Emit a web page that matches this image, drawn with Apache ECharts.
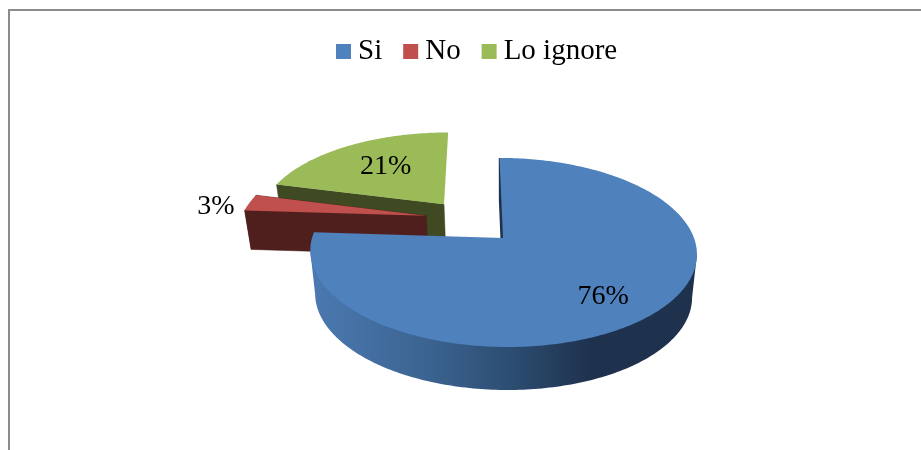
<!DOCTYPE html>
<html>
<head>
<meta charset="utf-8">
<style>html,body{margin:0;padding:0;background:#fff}#c{width:921px;height:450px}</style>
<script src="https://cdn.jsdelivr.net/npm/echarts@6/dist/echarts.min.js"></script>
</head>
<body>
<div id="c"></div>
<script>
var categories = ['Si', 'No', 'Lo ignore'];
var values = [76, 3, 21];

// Drawing style and projection of the tilted disc (no data here)
var topColors = ['#4F81BD', '#C0504D', '#9BBB59'];
var wallColors = [null, '#4F1F1D', '#3F4A22'];
var explode = [[0, 0], [-0.413, -0.25], [-0.319, -0.386]];
var labelRadius = [0.73, 1.19, 0.63];
var labelNudge = [[-6, 5.5], [-1, 6], [4.5, 0]];
var wallDepth = [43, 39, 39];
var curvedWall = [true, true, false];
var radialWallEnds = [[true, false], [true, true], [true, false]];
var apex = [503, 238], Rx = 191, Ry = 92.3, persp = 0.153, skew = 4;
var startDeg = 0, bottomSx = 0.975;
var FONT = '"Liberation Serif","Times New Roman",serif';

var total = values.reduce(function (a, b) { return a + b; }, 0);

function project(X, Y) {
  var w = 1 - persp * Y;
  return [apex[0] + (Rx * X + skew * Y) / w, apex[1] + Ry * Y / w];
}
function lower(p, idx) {
  return [apex[0] + bottomSx * (p[0] - apex[0]), p[1] + wallDepth[idx]];
}
function discPoint(idx, deg, r) {
  var a = deg * Math.PI / 180;
  return project(explode[idx][0] + r * Math.sin(a), explode[idx][1] - r * Math.cos(a));
}
function sliceRange(idx) {
  var before = 0;
  for (var i = 0; i < idx; i++) before += values[i];
  return [startDeg + 360 * before / total, startDeg + 360 * (before + values[idx]) / total];
}
function wallFill(idx) {
  if (wallColors[idx]) return wallColors[idx];
  return new echarts.graphic.LinearGradient(316, 0, 590, 0, [
    { offset: 0, color: '#4A78AF' },
    { offset: 0.4, color: '#3C6492' },
    { offset: 0.7, color: '#2D4E73' },
    { offset: 1, color: '#1E324E' }
  ], true);
}
function renderSlice(idx) {
  var range = sliceRange(idx), arc = [], d, i;
  for (d = range[0]; d < range[1]; d += 1) arc.push(discPoint(idx, d, 1));
  arc.push(discPoint(idx, range[1], 1));
  var c = discPoint(idx, 0, 0);
  var low = function (p) { return lower(p, idx); };
  var children = [];
  if (curvedWall[idx]) {
    // Outer wall: the silhouette between the disc's widest points, closed under the top face
    var iL = 0, iR = 0;
    for (i = 0; i < arc.length; i++) {
      if (arc[i][0] < arc[iL][0]) iL = i;
      if (arc[i][0] > arc[iR][0]) iR = i;
    }
    var a = Math.min(iL, iR), b = Math.max(iL, iR);
    children.push({
      type: 'polygon',
      shape: { points: arc.slice(a, b + 1).map(low).concat([arc[b], arc[a]]) },
      style: { fill: wallFill(idx) }
    });
  }
  [arc[0], arc[arc.length - 1]].forEach(function (p, k) {
    if (!radialWallEnds[idx][k]) return;
    children.push({
      type: 'polygon',
      shape: { points: [c, p, low(p), low(c)] },
      style: { fill: wallColors[idx] || '#1E324E', stroke: wallColors[idx] || '#1E324E', lineWidth: idx === 0 ? 1.5 : 0.5 }
    });
  });
  children.push({
    type: 'polygon',
    shape: { points: [c].concat(arc) },
    style: { fill: topColors[idx] }
  });
  var lp = discPoint(idx, (range[0] + range[1]) / 2, labelRadius[idx]);
  children.push({
    type: 'text',
    x: lp[0] + labelNudge[idx][0], y: lp[1] + labelNudge[idx][1],
    style: {
      text: Math.round(values[idx] / total * 100) + '%',
      fill: '#000', font: '28px ' + FONT, align: 'center', verticalAlign: 'middle'
    }
  });
  return { type: 'group', children: children };
}

var drawOrder = [2, 1, 0];
var chart = echarts.init(document.getElementById('c'), null, { renderer: 'canvas' });
chart.setOption({
  animation: false,
  backgroundColor: '#fff',
  legend: {
    data: categories,
    top: 37,
    left: 336,
    itemWidth: 15,
    itemHeight: 15,
    itemGap: 21,
    icon: 'rect',
    padding: 0,
    textStyle: { fontFamily: FONT, fontSize: 29, color: '#000', padding: [0, 0, 0, 2] }
  },
  graphic: [{
    type: 'polyline',
    silent: true,
    shape: { points: [[9, 450], [9, 10], [921, 10]] },
    style: { stroke: '#8C8C8C', lineWidth: 2, fill: null }
  }],
  series: drawOrder.map(function (idx) {
    return {
      type: 'custom',
      name: categories[idx],
      coordinateSystem: 'none',
      silent: true,
      itemStyle: { color: topColors[idx] },
      data: [values[idx]],
      renderItem: function () { return renderSlice(idx); }
    };
  })
});
</script>
</body>
</html>
